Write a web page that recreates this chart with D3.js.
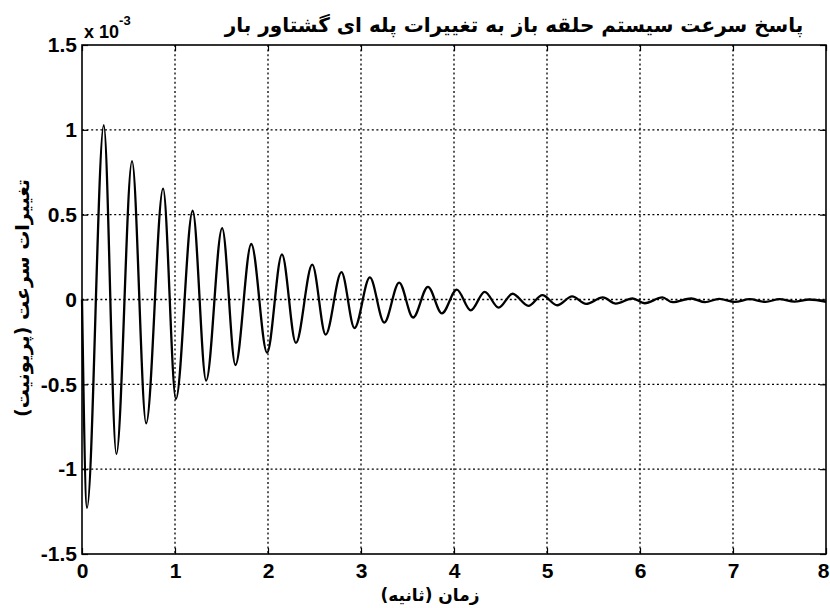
<!DOCTYPE html>
<html>
<head>
<meta charset="utf-8">
<script src="https://cdn.jsdelivr.net/npm/d3@7/dist/d3.min.js"></script>
<style>
  body { margin: 0; background: #fff; }
  svg text { fill: #000; }
</style>
</head>
<body>
<svg id="chart" width="830" height="608"></svg>
<script>
// Open-loop speed deviation (x 1e-3 p.u.) after a load-torque step:
// turning points of the damped oscillation, time in seconds.
const timeSec = [
  0.000, 0.054, 0.234, 0.370, 0.538, 0.690, 0.872, 1.010, 1.190, 1.335,
  1.507, 1.650, 1.820, 1.990, 2.150, 2.300, 2.476, 2.620, 2.790, 2.930,
  3.095, 3.250, 3.410, 3.560, 3.720, 3.870, 4.030, 4.180, 4.330, 4.480,
  4.630, 4.800, 4.950, 5.110, 5.270, 5.420, 5.600, 5.740, 5.920, 6.050,
  6.240, 6.350, 6.550, 6.700, 6.850, 7.020, 7.180, 7.350, 7.500, 7.660,
  7.820, 8.000
];
const speedDev = [
  0.000, -1.228, 1.027, -0.911, 0.815, -0.730, 0.653, -0.586, 0.523, -0.478,
  0.421, -0.386, 0.327, -0.313, 0.266, -0.256, 0.205, -0.207, 0.161, -0.168,
  0.130, -0.136, 0.100, -0.106, 0.075, -0.082, 0.058, -0.064, 0.045, -0.048,
  0.034, -0.038, 0.026, -0.034, 0.018, -0.026, 0.012, -0.024, 0.006, -0.022,
  0.012, -0.016, 0.006, -0.016, 0.004, -0.014, 0.002, -0.014, 0.002, -0.012,
  0.000, -0.014
];

const xTicks = [0, 1, 2, 3, 4, 5, 6, 7, 8];
const yTicks = [-1.5, -1, -0.5, 0, 0.5, 1, 1.5];

const titleText = "پاسخ سرعت سیستم حلقه باز به تغییرات پله ای گشتاور بار";
const xLabelText = "زمان (ثانیه)";
const yLabelText = "تغییرات سرعت (پریونیت)";

const box = { left: 82, right: 826, top: 45, bottom: 554 };
const svg = d3.select("#chart");

const x = d3.scaleLinear().domain([0, 8]).range([box.left, box.right]);
const y = d3.scaleLinear().domain([-1.5, 1.5]).range([box.bottom, box.top]);

const numFont = "'Liberation Sans', Arial, sans-serif";
const faFont = "'DejaVu Sans', sans-serif";

// dotted grid
const grid = svg.append("g")
  .attr("stroke", "#000")
  .attr("stroke-width", 1.3)
  .attr("stroke-dasharray", "2,2.6");
grid.selectAll("line.v")
  .data(xTicks.slice(1, -1))
  .join("line")
  .attr("class", "v")
  .attr("x1", d => x(d)).attr("x2", d => x(d))
  .attr("y1", box.top).attr("y2", box.bottom);
grid.selectAll("line.h")
  .data(yTicks.slice(1, -1))
  .join("line")
  .attr("class", "h")
  .attr("x1", box.left).attr("x2", box.right)
  .attr("y1", d => y(d)).attr("y2", d => y(d));

// axes with inward ticks; plain hyphen for negatives
const fmt = d => String(d);
const xAxis = svg.append("g")
  .attr("transform", `translate(0,${box.bottom})`)
  .call(d3.axisBottom(x).tickValues(xTicks).tickFormat(fmt)
    .tickSizeInner(-6).tickSizeOuter(0).tickPadding(9));
const xTop = svg.append("g")
  .attr("transform", `translate(0,${box.top})`)
  .call(d3.axisTop(x).tickValues(xTicks).tickFormat("")
    .tickSizeInner(-6).tickSizeOuter(0));
const yAxis = svg.append("g")
  .attr("transform", `translate(${box.left},0)`)
  .call(d3.axisLeft(y).tickValues(yTicks).tickFormat(fmt)
    .tickSizeInner(-6).tickSizeOuter(0).tickPadding(5));
const yRight = svg.append("g")
  .attr("transform", `translate(${box.right},0)`)
  .call(d3.axisRight(y).tickValues(yTicks).tickFormat("")
    .tickSizeInner(-6).tickSizeOuter(0));

[xAxis, xTop, yAxis, yRight].forEach(g => {
  g.select(".domain").remove();
  g.selectAll(".tick line").attr("stroke", "#000").attr("stroke-width", 1.2);
  g.selectAll(".tick text")
    .attr("font-family", numFont)
    .attr("font-weight", "bold")
    .attr("font-size", 21);
});
// keep the last x label inside the canvas
xAxis.selectAll(".tick text").filter(d => d === 8)
  .attr("text-anchor", "end").attr("x", 3);

// frame
svg.append("rect")
  .attr("x", box.left).attr("y", box.top)
  .attr("width", box.right - box.left).attr("height", box.bottom - box.top)
  .attr("fill", "none").attr("stroke", "#000").attr("stroke-width", 1.6);

// response curve
const line = d3.line()
  .x((d, i) => x(timeSec[i]))
  .y(d => y(d))
  .curve(d3.curveMonotoneX);
svg.append("path")
  .datum(speedDev)
  .attr("d", line)
  .attr("fill", "none")
  .attr("stroke", "#000")
  .attr("stroke-width", 2.3)
  .attr("stroke-linejoin", "round");

// exponent marker
const expo = svg.append("text")
  .attr("x", box.left + 2).attr("y", 38)
  .attr("font-family", numFont).attr("font-weight", "bold")
  .attr("font-size", 18);
expo.append("tspan").text("x 10");
expo.append("tspan").attr("dy", -13).attr("font-size", 13).text("-3");

// title
svg.append("text")
  .attr("x", 514).attr("y", 32)
  .attr("text-anchor", "middle")
  .attr("direction", "rtl")
  .attr("font-family", faFont).attr("font-weight", "bold")
  .attr("font-size", 20)
  .text(titleText);

// x label
svg.append("text")
  .attr("x", 430).attr("y", 601)
  .attr("text-anchor", "middle")
  .attr("direction", "rtl")
  .attr("font-family", faFont).attr("font-weight", "bold")
  .attr("font-size", 17)
  .text(xLabelText);

// y label
svg.append("text")
  .attr("transform", `translate(29,298) rotate(-90)`)
  .attr("text-anchor", "middle")
  .attr("direction", "rtl")
  .attr("font-family", faFont).attr("font-weight", "bold")
  .attr("font-size", 19)
  .text(yLabelText);
</script>
</body>
</html>
